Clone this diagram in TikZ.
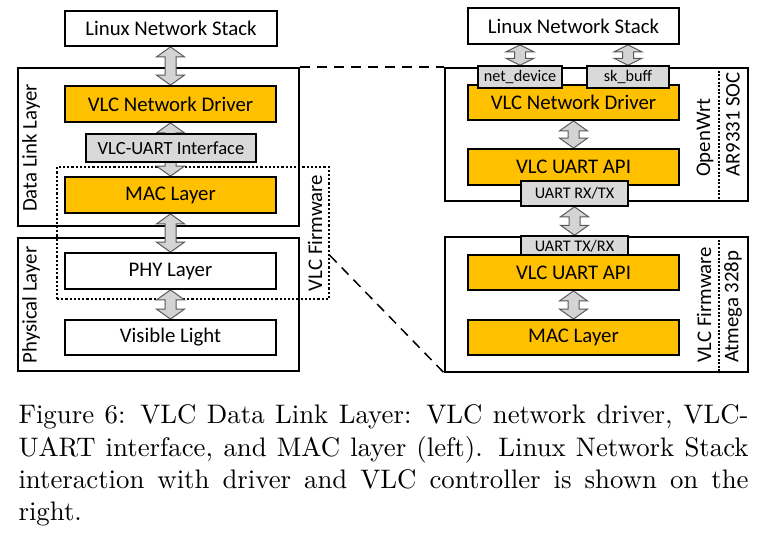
\documentclass[tikz,border=0pt]{standalone}
\usepackage{fontspec}
\newfontfamily\dfont{Carlito}
\usetikzlibrary{calc}
\pgfdeclarelayer{bg}\pgfdeclarelayer{back}\pgfdeclarelayer{mid}
\pgfsetlayers{bg,back,mid,main}
\definecolor{gold}{HTML}{FFC000}
\definecolor{lgray}{HTML}{D9D9D9}
\definecolor{agray}{HTML}{D4D4D4}
\tikzset{
 wh/.style 2 args={minimum width=#1pt, minimum height=#2pt},
 bx/.style={draw=black, line width=1.8pt, inner sep=0pt, font=\dfont\fontsize{20.8}{24}\selectfont},
 wbox/.style={bx, fill=white},
 obox/.style={bx, fill=gold},
 gbox/.style={bx, fill=lgray, line width=1.5pt},
 sfont/.style={font=\dfont\fontsize{16.2}{19}\selectfont},
 cont/.style={draw, line width=1.8pt, inner sep=0pt},
 vlab/.style={rotate=90, inner sep=0pt, font=\dfont\fontsize{20.8}{24}\selectfont},
 barrowsty/.style={fill=agray, draw=black!65, line width=1pt},
 dashconn/.style={line width=1.5pt, dash pattern=on 10pt off 7pt},
 sepdash/.style={line width=1.3pt, dash pattern=on 2pt off 1.6pt},
}
\newcommand\vlcarrow[3][10pt]{%
 \path[barrowsty] let \p1=(#2), \p2=(#3) in
 (\x2,\y1) -- (\x2+14pt,\y1-#1) -- (\x2+5.5pt,\y1-#1) -- (\x2+5.5pt,\y2+#1)
 -- (\x2+14pt,\y2+#1) -- (\x2,\y2) -- (\x2-14pt,\y2+#1) -- (\x2-5.5pt,\y2+#1)
 -- (\x2-5.5pt,\y1-#1) -- (\x2-14pt,\y1-#1) -- cycle;}
\begin{document}
\begin{tikzpicture}[x=1pt,y=-1pt]
\begin{pgfonlayer}{bg}
\fill[white] (0,0) rectangle (766,533);
\end{pgfonlayer}
\useasboundingbox (0,0) rectangle (766,533);

% left stack
\node[wbox, wh={212}{35}] (lns1) at (171,28.5) {Linux Network Stack};
\node[obox, wh={211}{36}] (drv1) at (170.5,104) {VLC Network Driver};
\node[gbox, wh={170}{28}, font=\dfont\fontsize{18.6}{22}\selectfont] (uif) at (171,148) {VLC-UART Interface};
\node[obox, wh={211}{36}] (mac1) at (170.5,195) {MAC Layer};
\node[wbox, wh={211}{36}] (phy) at (170.5,271) {PHY Layer};
\node[wbox, wh={211}{35}] (vis) at (170.5,337.5) {Visible Light};

\node[vlab] (ldll) at (31,148) {Data Link Layer};
\node[vlab] (lphy) at (31,305) {Physical Layer};
\node[vlab] (lfw) at (315,233) {VLC Firmware};

% right stack
\node[wbox, wh={211}{36}] (lns2) at (573.5,26) {Linux Network Stack};
\node[obox, wh={211}{35}] (drv2) at (573.5,102.5) {VLC Network Driver};
\node[gbox, wh={84}{22}, sfont] (ndev) at (520,77) {net\_device};
\node[gbox, wh={82}{22}, sfont] (skb) at (628,77) {sk\_buff};
\node[obox, wh={211}{36}] (api1) at (573.5,167) {VLC UART API};
\node[gbox, wh={107}{25}, sfont] (rxtx) at (574.5,193.5) {UART RX/TX};
\node[gbox, wh={107}{20}, sfont] (txrx) at (574.5,246) {UART TX/RX};
\node[obox, wh={211}{35}] (api2) at (573.5,272.5) {VLC UART API};
\node[obox, wh={211}{35}] (mac2) at (573.5,337.5) {MAC Layer};

\node[vlab, anchor=west] (low) at (705,177) {OpenWrt};
\node[vlab, anchor=west] (lar) at (733,177) {AR9331 SOC};
\node[vlab, anchor=west] (lvf) at (704,363) {VLC Firmware};
\node[vlab, anchor=west] (lat) at (733,363) {Atmega 328p};

\begin{pgfonlayer}{back}
\node[cont, wh={281}{158}] (dll) at (158.5,147) {};
\node[cont, wh={281}{133}] (phl) at (158.5,304.5) {};
\node[draw, line width=1.5pt, dash pattern=on 2.2pt off 2pt, inner sep=0pt, wh={272}{132}] (fw) at (193,233) {};
\node[cont, wh={303}{133}] (owrt) at (596.5,134.5) {};
\node[cont, wh={303}{135}] (atm) at (596.5,304.5) {};
\draw[sepdash] ($(owrt.north east)+(-30,0)$) -- ($(owrt.south east)+(-30,0)$);
\draw[sepdash] ($(atm.north east)+(-30,0)$) -- ($(atm.south east)+(-30,0)$);
\draw[dashconn] (dll.north east) -- (owrt.north west);
\draw[dashconn] ($(fw.north east)!0.667!(fw.south east)$) -- (atm.south west);
\end{pgfonlayer}

\begin{pgfonlayer}{mid}
\vlcarrow{lns1.south}{drv1.north}
\vlcarrow{drv1.south}{mac1.north}
\vlcarrow{mac1.south}{phy.north}
\vlcarrow{phy.south}{vis.north}
\vlcarrow[7pt]{lns2.south}{ndev.north}
\vlcarrow[7pt]{lns2.south}{skb.north}
\vlcarrow{drv2.south}{api1.north}
\vlcarrow{rxtx.south}{txrx.north}
\vlcarrow{api2.south}{mac2.north}
\end{pgfonlayer}

\node[anchor=north west, inner sep=0pt, scale=2.68, text width=272.4pt, align=justify] (cap) at (18,404.5)
 {\fontsize{10}{11.83}\selectfont Figure 6: VLC Data Link Layer: VLC network driver, VLC-\linebreak UART interface, and MAC layer (left). Linux Network Stack\linebreak interaction with driver and VLC controller is shown on the\linebreak right.};
\end{tikzpicture}
\end{document}
